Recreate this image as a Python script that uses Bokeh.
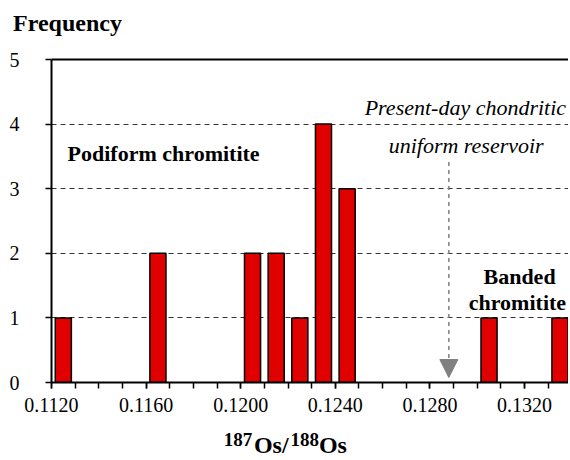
from bokeh.plotting import figure
from bokeh.models import (Range1d, FixedTicker, NumeralTickFormatter, Label,
                          Arrow, NormalHead, LinearAxis)
from bokeh.embed import file_html
from bokeh.resources import INLINE

# ---- data ----
bin_centers = [0.1125, 0.1165, 0.1205, 0.1215, 0.1225, 0.1235, 0.1245, 0.1305, 0.1335]
frequency = [1, 2, 2, 2, 1, 4, 3, 1, 1]
label_ticks = [0.112, 0.116, 0.120, 0.124, 0.128, 0.132]
minor_ticks = [0.112, 0.113, 0.114, 0.115, 0.116, 0.117, 0.118, 0.119, 0.120, 0.121, 0.122,
               0.123, 0.124, 0.125, 0.126, 0.127, 0.128, 0.129, 0.130, 0.131, 0.132, 0.133]
y_ticks = [0, 1, 2, 3, 4, 5]
grid_ticks = [1, 2, 3, 4]
chur_ratio = 0.1288

SERIF = "Liberation Serif"

p = figure(width=568, height=460, x_range=Range1d(0.112, 0.13386), y_range=Range1d(0, 5),
           output_backend="svg", toolbar_location=None,
           min_border_left=51, min_border_right=0, min_border_top=59, min_border_bottom=78)
p.outline_line_color = None
p.background_fill_color = "white"
p.border_fill_color = "white"

p.vbar(x=bin_centers, top=frequency, bottom=0, width=0.00068,
       fill_color="#e00000", line_color="black", line_width=1.5)

# axes
for ax in (p.xaxis[0], p.yaxis[0]):
    ax.axis_line_width = 2
    ax.axis_line_color = "black"
    ax.major_tick_in = 0
    ax.major_tick_out = 6
    ax.minor_tick_in = 0
    ax.minor_tick_out = 6
    ax.major_tick_line_width = 1.5
    ax.minor_tick_line_width = 1.5
    ax.major_tick_line_color = "black"
    ax.minor_tick_line_color = "black"
    ax.major_label_text_font = SERIF
    ax.major_label_text_font_size = "20px"
    ax.major_label_text_color = "black"

p.xaxis.ticker = FixedTicker(ticks=label_ticks, minor_ticks=minor_ticks)
p.xaxis.formatter = NumeralTickFormatter(format="0.0000")
p.xaxis.major_label_standoff = 9
p.yaxis.ticker = FixedTicker(ticks=y_ticks)
p.yaxis.major_label_standoff = 26

p.xgrid.visible = False
p.ygrid.ticker = FixedTicker(ticks=grid_ticks)
p.ygrid.grid_line_color = "#333333"
p.ygrid.grid_line_dash = "5 4"
p.ygrid.grid_line_width = 1.2

# label-only axes: used for the "Frequency" caption (above, its line is the top frame line)
# and for the x-axis title 187Os/188Os (superscripts, then main text)
def text_axis(positions, texts, size, standoff, place, line_color=None):
    ax = LinearAxis(ticker=FixedTicker(ticks=positions, minor_ticks=[]),
                    major_label_overrides=dict(zip(positions, texts)),
                    axis_line_color=line_color, axis_line_width=2,
                    major_tick_line_color=None,
                    minor_tick_line_color=None, major_tick_out=0, major_tick_in=0,
                    minor_tick_out=0, minor_tick_in=0,
                    major_label_standoff=standoff, major_label_text_font=SERIF,
                    major_label_text_font_size=size, major_label_text_font_style="bold",
                    major_label_text_color="black")
    p.add_layout(ax, place)

text_axis([0.112677], ["Frequency"], "24px", 24, "above", line_color="black")
text_axis([0.119886, 0.122708], ["187", "188"], "19px", 18, "below")
text_axis([0.121290, 0.123899], ["Os/", "Os"], "24px", -17, "below")

# arrow for chondritic reservoir
p.add_layout(Arrow(x_start=chur_ratio, y_start=3.413, x_end=chur_ratio, y_end=0.077,
                   line_color="#808080", line_width=1.5, line_dash="4 4",
                   end=NormalHead(size=18, fill_color="#808080", line_color="#808080", line_width=1)))

def lab(x, y, text, style="bold"):
    p.add_layout(Label(x=x, y=y, text=text, text_font=SERIF, text_font_size="22px",
                       text_font_style=style, text_align="center", text_baseline="middle",
                       text_color="black"))

lab(0.11674, 3.545, "Podiform chromitite")
lab(0.12950, 4.257, "Present-day chondritic", style="italic")
lab(0.12965, 3.675, "uniform  reservoir", style="italic")
lab(0.13179, 1.646, "Banded")
lab(0.13170, 1.243, "chromitite")

open("out.html", "w").write(file_html(p, INLINE))
